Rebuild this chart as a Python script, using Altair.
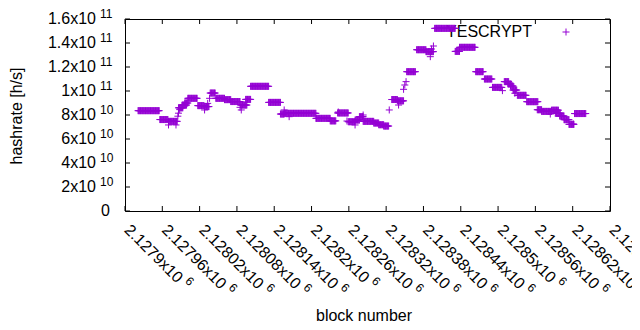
import altair as alt
import pandas as pd

BASE = 2127900

# hashrate runs (block offset start, end, value in 1e10 h/s)
run_start = [21, 56, 70, 86, 92, 96, 101, 117, 128, 137, 146, 160, 170, 186, 194, 202, 231, 250, 256, 307,
             330, 342, 359, 370, 377, 383, 400, 408, 416, 429, 438, 453, 469, 484, 498, 531, 538, 564, 578, 591,
             610, 616, 620, 624, 631, 646, 663, 670, 686, 692, 699, 706, 714, 723]
run_end = [55, 69, 84, 93, 99, 101, 116, 127, 135, 145, 160, 170, 185, 196, 202, 231, 250, 256, 307, 330,
           339, 359, 370, 377, 383, 400, 408, 416, 424, 438, 448, 467, 484, 496, 531, 538, 563, 576, 590, 606,
           617, 621, 624, 630, 645, 664, 670, 686, 697, 700, 706, 714, 722, 741]
run_val = [8.36, 7.62, 7.47, 8.6, 8.83, 9.0, 9.39, 8.78, 8.7, 9.83, 9.39, 9.28, 9.12, 8.83, 9.3, 10.39, 9.05, 8.08, 8.14, 7.72,
           7.51, 8.17, 7.44, 7.58, 7.86, 7.47, 7.33, 7.19, 7.08, 9.29, 9.18, 11.61, 13.44, 13.28, 15.22, 13.3, 13.64, 11.61, 11.0, 10.3,
           10.78, 10.58, 10.42, 10.08, 9.64, 9.11, 8.44, 8.3, 8.4, 8.14, 7.92, 7.61, 7.22, 8.12]

# isolated points
single_block = [70, 82, 85, 86, 88, 128, 133, 136, 185, 187, 256, 264, 343, 357, 370, 383, 425, 440, 448, 450,
                452, 491, 493, 496, 607, 627, 684, 721]
single_val = [7.17, 7.17, 7.9, 8.15, 8.45, 8.42, 8.97, 9.39, 8.64, 8.42, 8.42, 7.86, 8.25, 7.5, 7.17, 8.0, 8.42, 8.83, 10.14, 10.5,
              10.78, 12.86, 13.5, 13.75, 10.03, 9.81, 8.08, 7.25]

x_ticks = [BASE + 60 * i for i in range(14)]
x_labels = ["2.1279x10", "2.12796x10", "2.12802x10", "2.12808x10", "2.12814x10", "2.1282x10", "2.12826x10",
            "2.12832x10", "2.12838x10", "2.12844x10", "2.1285x10", "2.12856x10", "2.12862x10", "2.12868x10"]
x_exp = ["6"] * 14

y_ticks = [0, 2e10, 4e10, 6e10, 8e10, 1e11, 1.2e11, 1.4e11, 1.6e11]
y_labels = ["", "2x10", "4x10", "6x10", "8x10", "1x10", "1.2x10", "1.4x10", "1.6x10"]
y_exp = ["", "10", "10", "10", "10", "11", "11", "11", "11"]

rows = []
for s, e, v in zip(run_start, run_end, run_val):
    for b in range(s, e + 1):
        rows.append((BASE + b, v * 1e10))
for b, v in zip(single_block, single_val):
    rows.append((BASE + b, v * 1e10))
df = pd.DataFrame(rows, columns=["block", "rate"])

W, H = 485, 192
FONT = "Liberation Sans"
COLOR = "#9400D3"
PLUS = "M-1,0L1,0M0,-1L0,1"

xs = alt.Scale(domain=[BASE, BASE + 780], nice=False, zero=False)
ys = alt.Scale(domain=[0, 1.6e11], nice=False, zero=False)

xt = pd.DataFrame({"b": x_ticks, "main": x_labels, "exp": x_exp})
xt["n"] = xt["main"].str.len()
yt = pd.DataFrame({"v": y_ticks, "main": y_labels, "exp": y_exp})

X = alt.X("b:Q", scale=xs, axis=None)
Y = alt.Y("v:Q", scale=ys, axis=None)

ytick_l = alt.Chart(yt).mark_rule(color="black", strokeWidth=1).encode(y=Y, x=alt.value(0), x2=alt.value(5))
ytick_r = alt.Chart(yt).mark_rule(color="black", strokeWidth=1).encode(y=Y, x=alt.value(W - 5), x2=alt.value(W))
xtick_b = alt.Chart(xt).mark_rule(color="black", strokeWidth=1).encode(x=X, y=alt.value(H - 5), y2=alt.value(H))
xtick_t = alt.Chart(xt).mark_rule(color="black", strokeWidth=1).encode(x=X, y=alt.value(0), y2=alt.value(5))

ylab = alt.Chart(yt).mark_text(align="right", baseline="middle", font=FONT, fontSize=16, color="black").encode(
    y=Y, x=alt.value(-29), text="main:N")
yexp = alt.Chart(yt).mark_text(align="left", baseline="middle", font=FONT, fontSize=12, color="black", dy=-5).encode(
    y=Y, x=alt.value(-25), text="exp:N")
yzero = alt.Chart(pd.DataFrame({"v": [0], "t": ["0"]})).mark_text(
    align="right", baseline="middle", font=FONT, fontSize=16, color="black").encode(y=Y, x=alt.value(-15), text="t:N")

xlab = alt.Chart(xt).mark_text(align="left", baseline="top", angle=45, font=FONT, fontSize=16, color="black",
                               dx=6, dy=-5).encode(
    x=X, y=alt.value(H + 10), text="main:N")
xexp9 = alt.Chart(xt).transform_filter("datum.n == 9").mark_text(
    align="left", baseline="top", angle=45, font=FONT, fontSize=12, color="black", dx=85, dy=-8).encode(
    x=X, y=alt.value(H + 10), text="exp:N")
xexp10 = alt.Chart(xt).transform_filter("datum.n == 10").mark_text(
    align="left", baseline="top", angle=45, font=FONT, fontSize=12, color="black", dx=94, dy=-8).encode(
    x=X, y=alt.value(H + 10), text="exp:N")

ytitle = alt.Chart(pd.DataFrame({"t": ["hashrate [h/s]"]})).mark_text(
    angle=270, align="center", baseline="middle", font=FONT, fontSize=16, color="black").encode(
    x=alt.value(-108), y=alt.value(97), text="t:N")
xtitle = alt.Chart(pd.DataFrame({"t": ["block number"]})).mark_text(
    align="center", baseline="middle", font=FONT, fontSize=16, color="black").encode(
    x=alt.value(239), y=alt.value(297), text="t:N")

leg_text = alt.Chart(pd.DataFrame({"t": ["YESCRYPT"]})).mark_text(
    align="right", baseline="middle", font=FONT, fontSize=16, color="black").encode(
    x=alt.value(407), y=alt.value(13), text="t:N")
leg_pt = alt.Chart(pd.DataFrame({"t": ["YESCRYPT"]})).mark_point(
    shape=PLUS, size=49, filled=False, color=COLOR, strokeWidth=1, opacity=1).encode(
    x=alt.value(441), y=alt.value(13))

pts = alt.Chart(df).mark_point(shape=PLUS, size=49, filled=False, color=COLOR, strokeWidth=1, opacity=1).encode(
    x=alt.X("block:Q", scale=xs, axis=None), y=alt.Y("rate:Q", scale=ys, axis=None))

chart = alt.layer(
    ytick_l, ytick_r, xtick_b, xtick_t, ylab, yexp, yzero, xlab, xexp9, xexp10,
    ytitle, xtitle, leg_text, pts, leg_pt
).properties(
    width=W, height=H,
    autosize=alt.AutoSizeParams(type="none"),
    padding={"left": 117, "top": 11, "right": 22, "bottom": 110},
).configure_view(stroke="black", strokeWidth=1)

chart.save("out.html", embed_options={"renderer": "svg", "actions": False})
